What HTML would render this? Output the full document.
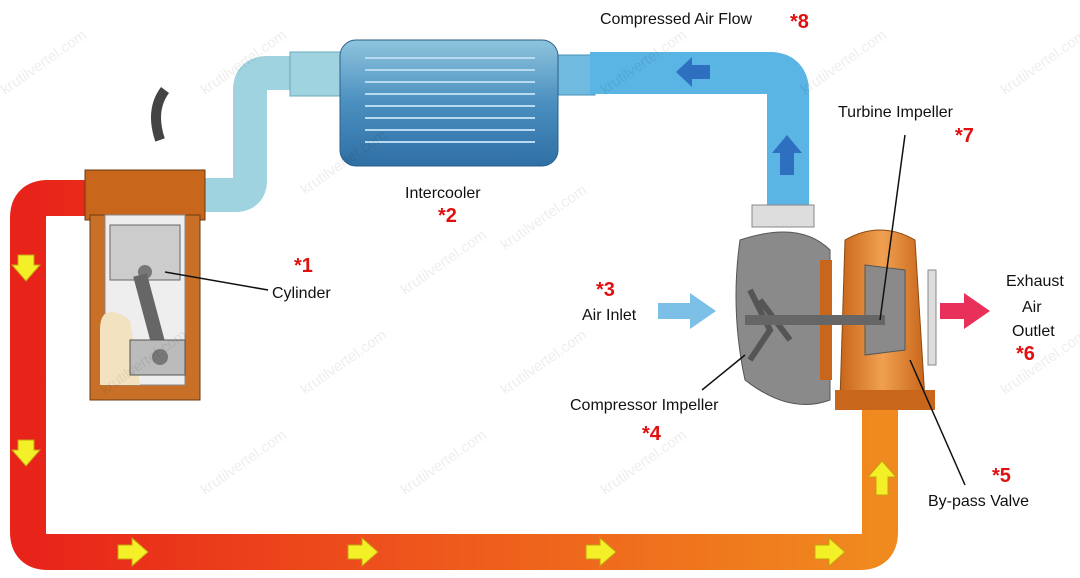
<!DOCTYPE html>
<html><head><meta charset="utf-8"><style>
html,body{margin:0;padding:0;background:#fff}
svg{display:block}
text{font-family:"Liberation Sans",sans-serif}
.l{font-size:16px;fill:#111}
.r{font-size:20px;fill:#e01010;font-weight:bold}
</style></head><body>
<svg width="1080" height="578" viewBox="0 0 1080 578" xmlns="http://www.w3.org/2000/svg">
<defs>
<linearGradient id="hot" x1="0" y1="0" x2="1" y2="0">
<stop offset="0" stop-color="#e8231a"/><stop offset="0.5" stop-color="#ee5a1c"/><stop offset="1" stop-color="#f08a1e"/>
</linearGradient>
<linearGradient id="ic" x1="0" y1="0" x2="0" y2="1">
<stop offset="0" stop-color="#8ec4dc"/><stop offset="0.5" stop-color="#4a8fc0"/><stop offset="1" stop-color="#2f6fa5"/>
</linearGradient>
<linearGradient id="turb" x1="0" y1="0" x2="1" y2="0">
<stop offset="0" stop-color="#c8661c"/><stop offset="0.5" stop-color="#f0a050"/><stop offset="1" stop-color="#c8661c"/>
</linearGradient>
</defs>

<!-- hot exhaust pipe -->
<path d="M95 198 L48 198 Q28 198 28 218 L28 532 Q28 552 48 552 L860 552 Q880 552 880 532 L880 410" fill="none" stroke="url(#hot)" stroke-width="36" stroke-linejoin="round"/>

<g fill="#f4f028" stroke="#c8a010" stroke-width="1">
<path d="M18 255 h16 v10 h6 l-14 16 l-14 -16 h6z"/>
<path d="M18 440 h16 v10 h6 l-14 16 l-14 -16 h6z"/>
<path d="M118 545 h14 v-7 l16 14 l-16 14 v-7 h-14z"/>
<path d="M348 545 h14 v-7 l16 14 l-16 14 v-7 h-14z"/>
<path d="M586 545 h14 v-7 l16 14 l-16 14 v-7 h-14z"/>
<path d="M815 545 h14 v-7 l16 14 l-16 14 v-7 h-14z"/>
<path d="M876 495 v-18 h-8 l14 -16 l14 16 h-8 v18z"/>
</g>

<path d="M200 195 L235 195 Q250 195 250 180 L250 90 Q250 73 268 73 L300 73" fill="none" stroke="#9fd3df" stroke-width="34"/>
<rect x="290" y="52" width="60" height="44" fill="#9fd3df" stroke="#6aa8bc"/>
<rect x="555" y="55" width="40" height="40" fill="#6fbade" stroke="#4a90b5"/>
<path d="M590 73 L770 73 Q788 73 788 92 L788 210" fill="none" stroke="#5ab4e4" stroke-width="42"/>
<path d="M710 65 h-18 v-8 l-16 15 l16 15 v-8 h18z" fill="#2f6fbf"/>
<path d="M780 175 v-22 h-8 l15 -18 l15 18 h-8 v22z" fill="#2f6fbf"/>

<rect x="340" y="40" width="218" height="126" rx="16" fill="url(#ic)" stroke="#2b5f8a"/>
<g stroke="#b8daf0" stroke-width="2">
<line x1="365" y1="58" x2="535" y2="58"/><line x1="365" y1="70" x2="535" y2="70"/>
<line x1="365" y1="82" x2="535" y2="82"/><line x1="365" y1="94" x2="535" y2="94"/>
<line x1="365" y1="106" x2="535" y2="106"/><line x1="365" y1="118" x2="535" y2="118"/>
<line x1="365" y1="130" x2="535" y2="130"/><line x1="365" y1="142" x2="535" y2="142"/>
</g>

<path d="M160 140 Q150 110 165 90" stroke="#444" stroke-width="10" fill="none"/>
<rect x="85" y="170" width="120" height="50" fill="#c8661c" stroke="#6a3a10"/>
<rect x="90" y="215" width="110" height="185" fill="#c87028" stroke="#6a3a10"/>
<rect x="105" y="215" width="80" height="170" fill="#eee" stroke="#888"/>
<rect x="110" y="225" width="70" height="55" fill="#ccc" stroke="#666"/>
<circle cx="145" cy="272" r="7" fill="#777"/>
<path d="M100 330 Q100 300 130 320 L140 385 L100 385z" fill="#f3e2c0"/>
<path d="M140 275 L160 350" stroke="#666" stroke-width="14"/>
<rect x="130" y="340" width="55" height="35" fill="#bbb" stroke="#555"/>
<circle cx="160" cy="357" r="8" fill="#777"/>

<rect x="752" y="205" width="62" height="22" fill="#ddd" stroke="#888"/>
<path d="M740 240 Q800 220 830 250 L830 400 Q790 415 745 380 Q730 310 740 240z" fill="#8a8a8a" stroke="#555"/>
<path d="M750 290 L770 330 L750 360 M760 300 L790 340" stroke="#555" stroke-width="6" fill="none"/>
<rect x="820" y="260" width="12" height="120" fill="#c8661c"/>
<path d="M845 240 Q880 220 915 240 L925 400 L840 400z" fill="url(#turb)" stroke="#8a4a10"/>
<rect x="835" y="390" width="100" height="20" fill="#c8661c"/>
<rect x="928" y="270" width="8" height="95" fill="#ddd" stroke="#888"/>
<path d="M865 265 L905 270 L905 350 L865 355z" fill="#8a8a8a" stroke="#555"/>
<rect x="745" y="315" width="140" height="10" fill="#666"/>
<path d="M658 303 h32 v-10 l26 18 l-26 18 v-10 h-32z" fill="#7cc0e8"/>
<path d="M940 303 h24 v-10 l26 18 l-26 18 v-10 h-24z" fill="#e8305a"/>

<g stroke="#111" stroke-width="1.5">
<line x1="165" y1="272" x2="268" y2="290"/>
<line x1="745" y1="355" x2="702" y2="390"/>
<line x1="905" y1="135" x2="880" y2="320"/>
<line x1="965" y1="485" x2="910" y2="360"/>
</g>

<text x="600" y="24" class="l">Compressed Air Flow</text><text x="790" y="28" class="r">*8</text>
<text x="838" y="117" class="l">Turbine Impeller</text><text x="955" y="142" class="r">*7</text>
<text x="405" y="198" class="l">Intercooler</text><text x="438" y="222" class="r">*2</text>
<text x="294" y="272" class="r">*1</text><text x="272" y="298" class="l">Cylinder</text>
<text x="596" y="296" class="r">*3</text><text x="582" y="320" class="l">Air Inlet</text>
<text x="1006" y="286" class="l">Exhaust</text><text x="1022" y="312" class="l">Air</text>
<text x="1012" y="336" class="l">Outlet</text><text x="1016" y="360" class="r">*6</text>
<text x="570" y="410" class="l">Compressor Impeller</text><text x="642" y="440" class="r">*4</text>
<text x="992" y="482" class="r">*5</text><text x="928" y="506" class="l">By-pass Valve</text>

<g fill="#000" fill-opacity="0.07" font-size="15" font-family="Liberation Sans,sans-serif">
<text transform="translate(5,95) rotate(-35)">krutilvertel.com</text>
<text transform="translate(205,95) rotate(-35)">krutilvertel.com</text>
<text transform="translate(605,95) rotate(-35)">krutilvertel.com</text>
<text transform="translate(805,95) rotate(-35)">krutilvertel.com</text>
<text transform="translate(1005,95) rotate(-35)">krutilvertel.com</text>
<text transform="translate(305,195) rotate(-35)">krutilvertel.com</text>
<text transform="translate(505,250) rotate(-35)">krutilvertel.com</text>
<text transform="translate(405,295) rotate(-35)">krutilvertel.com</text>
<text transform="translate(105,395) rotate(-35)">krutilvertel.com</text>
<text transform="translate(305,395) rotate(-35)">krutilvertel.com</text>
<text transform="translate(505,395) rotate(-35)">krutilvertel.com</text>
<text transform="translate(205,495) rotate(-35)">krutilvertel.com</text>
<text transform="translate(405,495) rotate(-35)">krutilvertel.com</text>
<text transform="translate(605,495) rotate(-35)">krutilvertel.com</text>
<text transform="translate(1005,395) rotate(-35)">krutilvertel.com</text>
</g>
</svg>
</body></html>
